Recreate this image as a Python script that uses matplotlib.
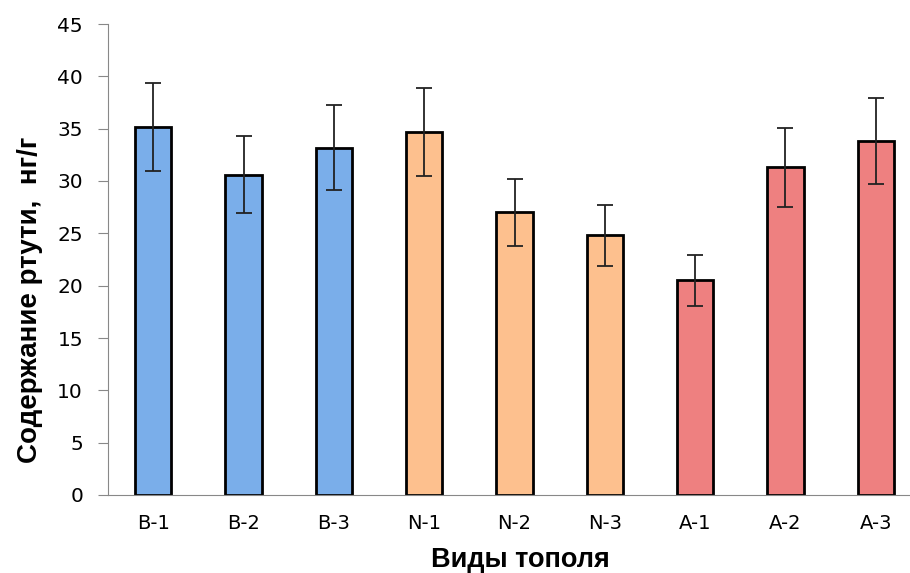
import matplotlib.pyplot as plt
import numpy as np

categories = ["B-1", "B-2", "B-3", "N-1", "N-2", "N-3", "A-1", "A-2", "A-3"]
values = [35.15, 30.6, 33.2, 34.7, 27.0, 24.8, 20.5, 31.3, 33.8]
errors = [4.2, 3.7, 4.05, 4.2, 3.2, 2.95, 2.45, 3.75, 4.1]
colors = ["#7aaeea"] * 3 + ["#fdc08e"] * 3 + ["#ee8080"] * 3

fig = plt.figure(figsize=(9.1, 5.73), dpi=100)
# the right end of the axis is clipped in the original
ax = fig.add_axes([108 / 910, 78 / 573, 813 / 910, 471 / 573])

x = np.arange(len(categories))
ax.bar(x, values, width=0.4, color=colors, edgecolor="black", linewidth=2, zorder=2)
ax.errorbar(x, values, yerr=errors, fmt="none", ecolor="#222222",
            elinewidth=1.3, capsize=6, capthick=1.3, zorder=3)

ax.set_xlim(-0.5, 8.5)
ax.set_ylim(0, 45)
ax.set_yticks(np.arange(0, 46, 5))
ax.set_xticks(x)
ax.set_xticklabels(categories, fontfamily="DejaVu Sans", fontsize=14)
for lab in ax.get_yticklabels():
    lab.set_fontfamily("DejaVu Sans")
    lab.set_fontsize(14.5)

for s in ["top", "right"]:
    ax.spines[s].set_visible(False)
ax.spines["left"].set_color("#888888")
ax.spines["bottom"].set_color("#888888")
ax.tick_params(axis="y", length=7, color="#888888", pad=11)
ax.tick_params(axis="x", length=0, pad=14)

ax.set_ylabel("Содержание ртути,  нг/г", fontfamily="Liberation Sans",
              fontweight="bold", fontsize=20)
ax.set_xlabel("Виды тополя", fontfamily="Liberation Sans",
              fontweight="bold", fontsize=19.5)
ax.yaxis.set_label_coords(-0.08, 0.414)
ax.xaxis.set_label_coords(0.507, -0.11)

fig.savefig("out.png", dpi=100)
